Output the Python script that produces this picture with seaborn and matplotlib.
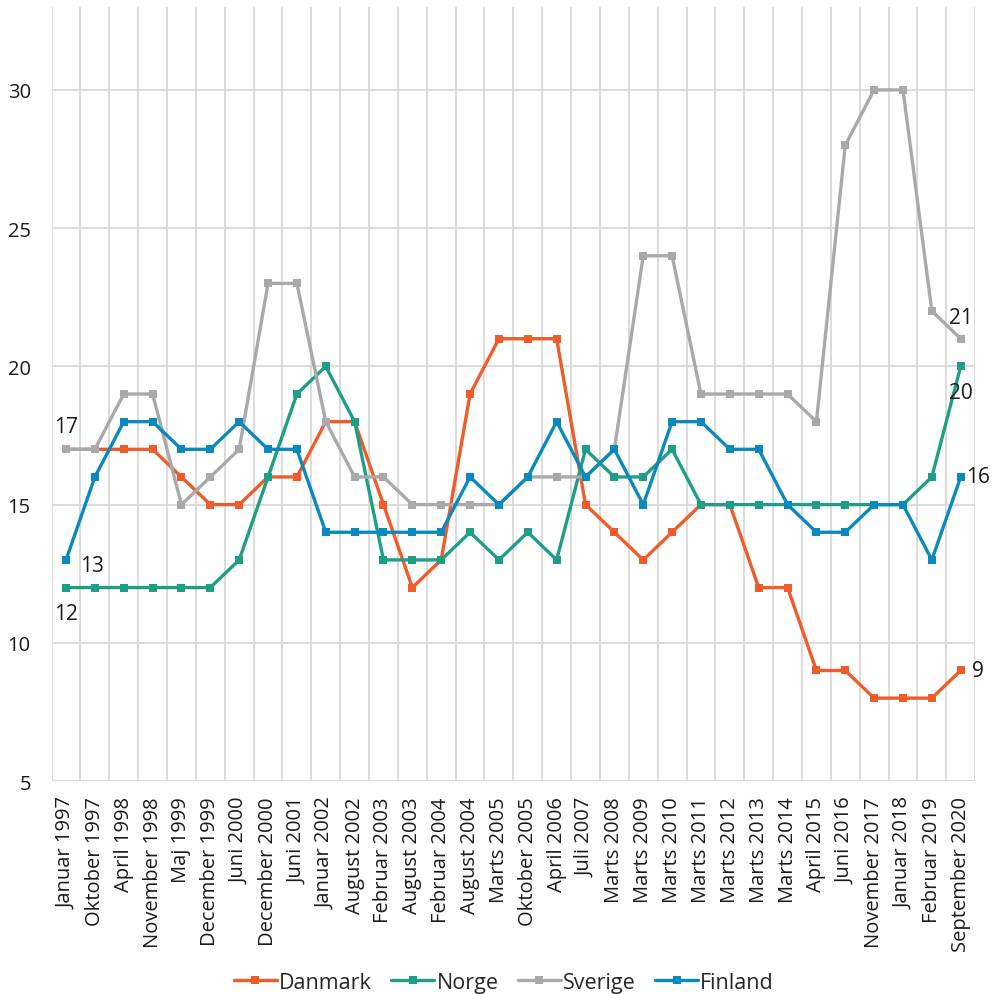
import pandas as pd
import numpy as np
import matplotlib.pyplot as plt
import seaborn as sns

perioder = ['Januar 1997', 'Oktober 1997', 'April 1998', 'November 1998', 'Maj 1999',
            'December 1999', 'Juni 2000', 'December 2000', 'Juni 2001', 'Januar 2002',
            'August 2002', 'Februar 2003', 'August 2003', 'Februar 2004', 'August 2004',
            'Marts 2005', 'Oktober 2005', 'April 2006', 'Juli 2007', 'Marts 2008',
            'Marts 2009', 'Marts 2010', 'Marts 2011', 'Marts 2012', 'Marts 2013',
            'Marts 2014', 'April 2015', 'Juni 2016', 'November 2017', 'Januar 2018',
            'Februar 2019', 'September 2020']

danmark = [17, 17, 17, 17, 16, 15, 15, 16, 16, 18, 18, 15, 12, 13, 19, 21,
           21, 21, 15, 14, 13, 14, 15, 15, 12, 12, 9, 9, 8, 8, 8, 9]
norge = [12, 12, 12, 12, 12, 12, 13, 16, 19, 20, 18, 13, 13, 13, 14, 13,
         14, 13, 17, 16, 16, 17, 15, 15, 15, 15, 15, 15, 15, 15, 16, 20]
sverige = [17, 17, 19, 19, 15, 16, 17, 23, 23, 18, 16, 16, 15, 15, 15, 15,
           16, 16, 16, 17, 24, 24, 19, 19, 19, 19, 18, 28, 30, 30, 22, 21]
finland = [13, 16, 18, 18, 17, 17, 18, 17, 17, 14, 14, 14, 14, 14, 16, 15,
           16, 18, 16, 17, 15, 18, 18, 17, 17, 15, 14, 14, 15, 15, 13, 16]

lande = ['Danmark', 'Norge', 'Sverige', 'Finland']
farver = ['#F15A29', '#1F9E86', '#A7A9AC', '#0A89BE']

df = pd.DataFrame({'periode': perioder * 4,
                   'vaerdi': danmark + norge + sverige + finland,
                   'land': np.repeat(lande, len(perioder))})

sns.set_style('white')
plt.rcParams['font.family'] = ['Open Sans', 'DejaVu Sans']

fig, ax = plt.subplots(figsize=(9.92, 9.95), dpi=100)
fig.subplots_adjust(left=0.052, right=0.983, top=0.992, bottom=0.214)

sns.lineplot(data=df, x='periode', y='vaerdi', hue='land', palette=farver,
             sort=False, marker='s', markersize=6, markeredgewidth=0,
             linewidth=2.4, ax=ax)

ax.set_xlim(-0.5, len(perioder) - 0.5)
ax.set_ylim(5, 33)
ax.set_yticks([5, 10, 15, 20, 25, 30])
ax.set_xticks(range(len(perioder)))
ax.set_xticklabels(perioder, rotation=90)
ax.set_xticks(np.arange(len(perioder) + 1) - 0.5, minor=True)
ax.grid(False)
ax.grid(axis='y', which='major', color='#D9D9D9', linewidth=1.3)
ax.grid(axis='x', which='minor', color='#D9D9D9', linewidth=1.3)
ax.tick_params(axis='both', which='both', length=0, labelsize=14.5, colors='#1a1a1a')
ax.tick_params(axis='y', pad=15)
ax.tick_params(axis='x', pad=11)
ax.set_xlabel('')
ax.set_ylabel('')
for s in ax.spines.values():
    s.set_visible(False)
ax.set_axisbelow(True)

# labels for first and last values
n = len(perioder) - 1
tkw = dict(fontsize=15, color='#1a1a1a')
ax.text(0, danmark[0] + 0.45, str(danmark[0]), ha='center', va='bottom', **tkw)
ax.text(0.5, finland[0] - 0.2, str(finland[0]), ha='left', va='center', **tkw)
ax.text(0, norge[0] - 0.55, str(norge[0]), ha='center', va='top', **tkw)
ax.text(n, sverige[n] + 0.4, str(sverige[n]), ha='center', va='bottom', **tkw)
ax.text(n, norge[n] - 0.55, str(norge[n]), ha='center', va='top', **tkw)
ax.text(n + 0.17, finland[n], str(finland[n]), ha='left', va='center', **tkw)
ax.text(n + 0.4, danmark[n], str(danmark[n]), ha='left', va='center', **tkw)

h, l = ax.get_legend_handles_labels()
ax.get_legend().remove()
fig.legend(h, l, loc='lower center', bbox_to_anchor=(0.508, -0.018), ncol=4, frameon=False,
           fontsize=15.5, handlelength=2.0, handletextpad=0.1, columnspacing=0.9)

plt.savefig('out.png', dpi=100)
